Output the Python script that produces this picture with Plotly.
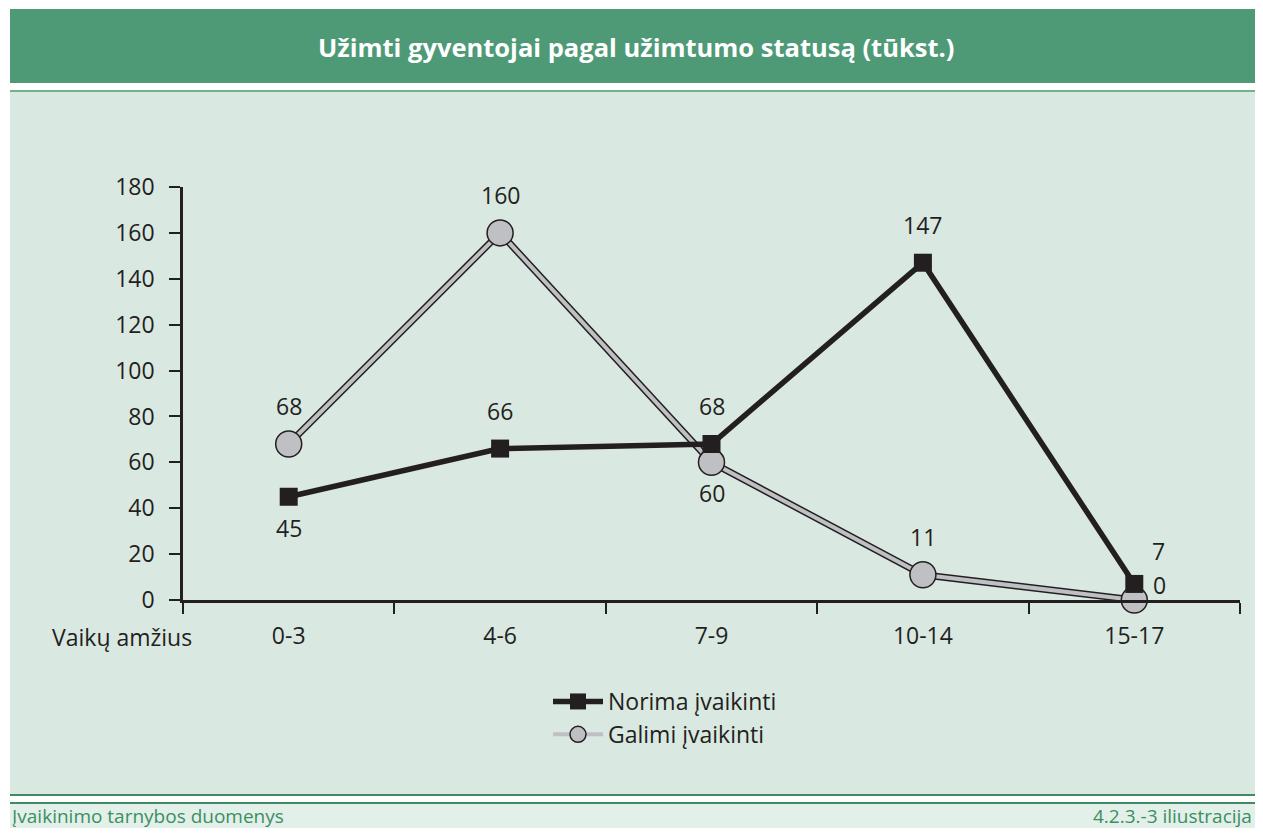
import plotly.graph_objects as go

# Data
age_groups = ["0-3", "4-6", "7-9", "10-14", "15-17"]
wanted = [45, 66, 68, 147, 7]       # Norima įvaikinti
possible = [68, 160, 60, 11, 0]     # Galimi įvaikinti
y_ticks = [0, 20, 40, 60, 80, 100, 120, 140, 160, 180]

title_text = "Užimti gyventojai pagal užimtumo statusą (tūkst.)"
x_caption = "Vaikų amžius"
source_text = "Įvaikinimo tarnybos duomenys"
figure_id = "4.2.3.-3 iliustracija"

# label placement per point (style only)
wanted_pos = ["below", "above", "above", "above", "upright"]
possible_pos = ["above", "above", "below", "above", "right"]

# page coordinates of the reference; the browser body adds an 8px margin
PAGE_W, PAGE_H = 1263, 836
BODY = 8
X0, X1, Y0, Y1 = 183, 1240, 187, 600   # plot area in page pixels
PW, PH = X1 - X0, Y1 - Y0
RIGHT, BOTTOM = PAGE_W - BODY, PAGE_H - BODY   # last visible page pixel of the figure

DARK = "#231f20"
GREY = "#bfc0c4"
FONT = "Open Sans, Arial, sans-serif"


def px(x):
    return (x - X0) / PW


def py(y):
    return (Y1 - y) / PH


OFFSETS = {
    "above": (0, 38),
    "below": (0, -31),
    "upright": (24, 33),
    "right": (25, 15),
}

fig = go.Figure()

# grey series: dark outline under a lighter core
fig.add_trace(go.Scatter(
    x=age_groups, y=possible, mode="lines",
    line=dict(color=DARK, width=7), showlegend=False,
    hoverinfo="skip", cliponaxis=False,
))
fig.add_trace(go.Scatter(
    x=age_groups, y=possible, mode="lines+markers", name="Galimi įvaikinti",
    line=dict(color=GREY, width=4),
    marker=dict(symbol="circle", size=26, color=GREY, line=dict(color=DARK, width=1.5)),
    cliponaxis=False,
))
fig.add_trace(go.Scatter(
    x=age_groups, y=wanted, mode="lines+markers", name="Norima įvaikinti",
    line=dict(color=DARK, width=5.5),
    marker=dict(symbol="square", size=18, color=DARK),
    cliponaxis=False,
))

annotations = []
for vals, poss in ((wanted, wanted_pos), (possible, possible_pos)):
    for cat, v, p in zip(age_groups, vals, poss):
        dx, dy = OFFSETS[p]
        annotations.append(dict(
            x=cat, y=v, xref="x", yref="y", text=str(v), showarrow=False,
            xshift=dx, yshift=dy, font=dict(size=23, color=DARK, family=FONT),
        ))

footer_font = dict(size=19, color="#3a8f62", family=FONT)
annotations += [
    dict(x=px(636), y=py(47), xref="paper", yref="paper", text="<b>" + title_text + "</b>",
         showarrow=False, font=dict(size=25.5, color="white", family=FONT),
         xanchor="center", yanchor="middle"),
    dict(x=px(194), y=py(637), xref="paper", yref="paper", text=x_caption,
         showarrow=False, font=dict(size=23, color=DARK, family=FONT),
         xanchor="right", yanchor="middle"),
    dict(x=px(10), y=py(816), xref="paper", yref="paper", text=source_text,
         showarrow=False, font=footer_font, xanchor="left", yanchor="middle"),
    dict(x=px(RIGHT - 1), y=py(816), xref="paper", yref="paper", text=figure_id,
         showarrow=False, font=footer_font, xanchor="right", yanchor="middle"),
]


def rect(x0, y0, x1, y1, color):
    return dict(type="rect", xref="paper", yref="paper", x0=px(x0), x1=px(x1),
                y0=py(y1), y1=py(y0), fillcolor=color, line=dict(width=0), layer="below")


def hline(y, color, w):
    return dict(type="line", xref="paper", yref="paper", x0=px(10), x1=px(RIGHT),
                y0=py(y), y1=py(y), line=dict(color=color, width=w), layer="below")


shapes = [
    rect(10, 9, RIGHT, 83, "#4e9a77"),
    rect(10, 92, RIGHT, 795, "#d9e8e1"),
    rect(10, 804, RIGHT, BOTTOM, "#e3efe9"),
    hline(91, "#72b08e", 2),
    hline(795, "#3f8c64", 2),
    hline(803, "#3f8c64", 2),
]

# keep the figure inside the window (body margin on every side) so no scrollbars appear
W, H = RIGHT - BODY, BOTTOM - BODY
fig.update_layout(
    width=W, height=H,
    margin=dict(l=X0 - BODY, r=W - (X0 - BODY) - PW, t=Y0 - BODY,
                b=H - (Y0 - BODY) - PH, autoexpand=False),
    paper_bgcolor="white", plot_bgcolor="rgba(0,0,0,0)",
    font=dict(family=FONT, size=23, color=DARK),
    shapes=shapes, annotations=annotations,
    legend=dict(
        x=px(548), y=py(680), xanchor="left", yanchor="top",
        bgcolor="rgba(0,0,0,0)", font=dict(size=23, color=DARK, family=FONT),
        traceorder="reversed", tracegroupgap=0, itemwidth=50,
    ),
    xaxis=dict(
        type="category", range=[-0.5, 4.5], showgrid=False, zeroline=False,
        showline=True, linecolor=DARK, linewidth=2.5,
        ticks="outside", tickson="boundaries", ticklen=11, tickwidth=2, tickcolor=DARK,
        ticklabelstandoff=14, tickfont=dict(size=23, color=DARK),
    ),
    yaxis=dict(
        range=[0, 180], tickvals=y_ticks, showgrid=False, zeroline=False,
        showline=True, linecolor=DARK, linewidth=2.5,
        ticks="outside", ticklen=11, tickwidth=2, tickcolor=DARK,
        ticklabelstandoff=10, tickfont=dict(size=23, color=DARK),
    ),
)

fig.write_html("out.html")
